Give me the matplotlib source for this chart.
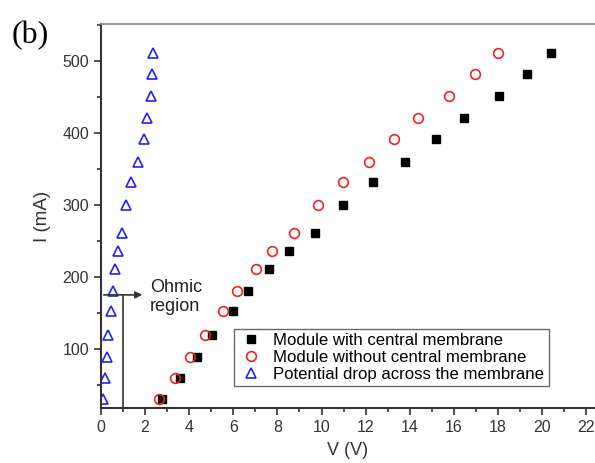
import numpy as np
import matplotlib.pyplot as plt
from matplotlib.ticker import MultipleLocator

# data
current = [31, 60, 89, 120, 153, 180, 211, 236, 261, 300, 332, 360, 391, 421, 451, 481, 511]
v_with = [2.78, 3.58, 4.34, 5.05, 5.97, 6.68, 7.63, 8.54, 9.71, 10.99, 12.35, 13.80,
          15.19, 16.46, 18.03, 19.32, 20.41]
v_without = [2.65, 3.36, 4.04, 4.72, 5.52, 6.18, 7.01, 7.77, 8.75, 9.86, 10.99, 12.14,
             13.27, 14.39, 15.77, 16.97, 18.02]
v_membrane = [0.10, 0.18, 0.26, 0.33, 0.45, 0.56, 0.63, 0.79, 0.94, 1.13, 1.36, 1.66,
              1.94, 2.07, 2.27, 2.33, 2.37]

ohmic_v = 1.0
ohmic_i = 175

plt.rcParams['font.family'] = ['Liberation Sans', 'DejaVu Sans']
plt.rcParams['font.size'] = 11

fig = plt.figure(figsize=(5.95, 4.63), dpi=100)
ax = fig.add_axes([0.1697, 0.1188, 0.8303, 0.8294])

ax.plot(v_with, current, 's', color='black', ms=6, label='Module with central membrane')
ax.plot(v_without, current, 'o', mfc='none', mec='#ee2222', mew=1.2, ms=7,
        label='Module without central membrane')
ax.plot(v_membrane, current, '^', mfc='none', mec='#2222ee', mew=1.2, ms=7,
        label='Potential drop across the membrane')

# ohmic region marker
ax.plot([ohmic_v, ohmic_v], [0, ohmic_i], color='#333333', lw=1.2)
ax.annotate('', xy=(2.0, ohmic_i), xytext=(0, ohmic_i),
            arrowprops=dict(arrowstyle='-|>', color='#333333', lw=1.2, mutation_scale=10))
ax.text(2.22, ohmic_i - 3, 'Ohmic\nregion', fontsize=13, va='center', ha='left',
        linespacing=1.1, color='#222222')

ax.set_xlim(0, 22.4)
ax.set_ylim(18, 551)
ax.xaxis.set_major_locator(MultipleLocator(2))
ax.xaxis.set_minor_locator(MultipleLocator(1))
ax.yaxis.set_major_locator(MultipleLocator(100))
ax.yaxis.set_minor_locator(MultipleLocator(50))
ax.tick_params(which='both', direction='out', color='#333333', width=1.2)
ax.tick_params(which='major', length=5, labelsize=11.5, labelcolor='#333333')
ax.tick_params(which='minor', length=3)

ax.spines['right'].set_visible(False)
for s in ['left', 'bottom']:
    ax.spines[s].set_color('#333333')
    ax.spines[s].set_linewidth(1.5)
ax.spines['top'].set_color('#888888')
ax.spines['top'].set_linewidth(1.2)

ax.set_xlabel('V (V)', fontsize=13, color='#333333', labelpad=5)
ax.set_ylabel('I (mA)', fontsize=13.5, color='#333333', labelpad=8)

leg = ax.legend(loc='lower left', bbox_to_anchor=(0.269, 0.057), borderaxespad=0,
                fancybox=False, edgecolor='#444444', fontsize=12.1, handletextpad=0.6,
                labelspacing=0.12, borderpad=0.25, handlelength=1.5)
leg.get_frame().set_linewidth(1.0)

fig.text(0.02, 0.955, '(b)', fontsize=23, family='Liberation Serif', va='top', ha='left')

fig.savefig('out.png', dpi=100)
